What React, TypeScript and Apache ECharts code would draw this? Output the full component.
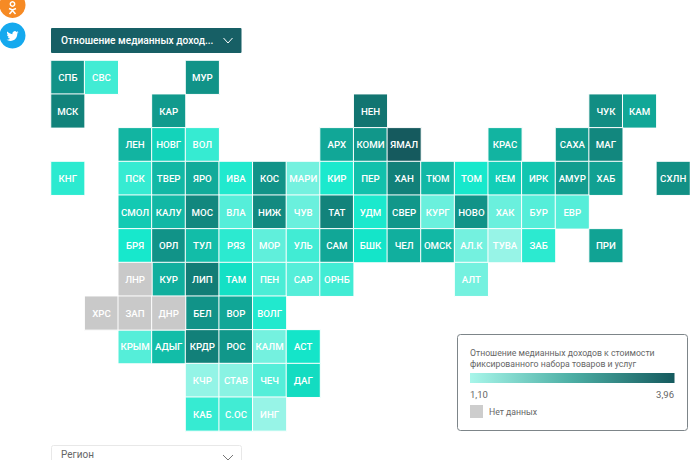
import React, { useEffect, useRef } from "react";
import * as echarts from "echarts";

const columns = Array.from({ length: 19 }, (_, i) => String(i));
const gridRows = Array.from({ length: 11 }, (_, i) => String(i));

const names = [
  "СПБ","СВС","МУР",
  "МСК","КАР","НЕН","ЧУК","КАМ",
  "ЛЕН","НОВГ","ВОЛ","АРХ","КОМИ","ЯМАЛ","КРАС","САХА","МАГ",
  "КНГ","ПСК","ТВЕР","ЯРО","ИВА","КОС","МАРИ","КИР","ПЕР","ХАН","ТЮМ","ТОМ","КЕМ","ИРК","АМУР","ХАБ","СХЛН",
  "СМОЛ","КАЛУ","МОС","ВЛА","НИЖ","ЧУВ","ТАТ","УДМ","СВЕР","КУРГ","НОВО","ХАК","БУР","ЕВР",
  "БРЯ","ОРЛ","ТУЛ","РЯЗ","МОР","УЛЬ","САМ","БШК","ЧЕЛ","ОМСК","АЛ.К","ТУВА","ЗАБ","ПРИ",
  "КУР","ЛИП","ТАМ","ПЕН","САР","ОРНБ","АЛТ",
  "БЕЛ","ВОР","ВОЛГ",
  "КРЫМ","АДЫГ","КРДР","РОС","КАЛМ","АСТ",
  "КЧР","СТАВ","ЧЕЧ","ДАГ",
  "КАБ","С.ОС","ИНГ",
];
const cols = [
  0,1,4,
  0,3,9,16,17,
  2,3,4,8,9,10,13,15,16,
  0,2,3,4,5,6,7,8,9,10,11,12,13,14,15,16,18,
  2,3,4,5,6,7,8,9,10,11,12,13,14,15,
  2,3,4,5,6,7,8,9,10,11,12,13,14,16,
  3,4,5,6,7,8,12,
  4,5,6,
  2,3,4,5,6,7,
  4,5,6,7,
  4,5,6,
];
const rows = [
  0,0,0,
  1,1,1,1,1,
  2,2,2,2,2,2,2,2,2,
  3,3,3,3,3,3,3,3,3,3,3,3,3,3,3,3,3,
  4,4,4,4,4,4,4,4,4,4,4,4,4,4,
  5,5,5,5,5,5,5,5,5,5,5,5,5,5,
  6,6,6,6,6,6,6,
  7,7,7,
  8,8,8,8,8,8,
  9,9,9,9,
  10,10,10,
];
const values = [
  2.85,1.6,2.85,
  3.1,2.75,3.35,2.95,2.55,
  2.4,2.05,1.65,2.55,2.8,3.96,2.4,2.75,3.05,
  1.7,1.65,2.35,2.5,1.75,2.85,1.35,1.78,2.25,3.15,2.35,1.8,2.1,2.2,2.7,2.65,2.9,
  2.15,2.35,3.05,1.5,3.0,1.4,3.1,1.78,2.8,1.4,2.85,1.4,1.5,1.5,
  1.8,2.85,2.3,1.7,1.45,1.6,2.55,1.85,2.45,2.35,1.35,1.18,1.7,2.6,
  2.45,3.2,1.9,1.55,1.5,1.6,1.35,
  2.85,2.55,1.75,
  1.5,2.3,3.15,2.8,1.35,1.85,
  1.2,1.25,1.5,1.95,
  1.65,1.6,1.18,
];

const missingNames = ["ЛНР", "ХРС", "ЗАП", "ДНР"];
const missingCols = [2, 1, 2, 3];
const missingRows = [6, 7, 7, 7];

const legendTitle = ["Отношение медианных доходов к стоимости", "фиксированного набора товаров и услуг"];
const legendMin = 1.1;
const legendMax = 3.96;
const legendMinLabel = "1,10";
const legendMaxLabel = "3,96";
const noDataLabel = "Нет данных";
const scaleColors = ["#a8f6ea", "#14e8cb", "#11a898", "#127a74", "#155a5e"];

const twitterPath =
  "M23.95 4.57a10 10 0 0 1-2.82.77 4.96 4.96 0 0 0 2.16-2.72c-.95.55-2 .96-3.13 1.19a4.92 4.92 0 0 0-8.38 4.48C7.69 8.1 4.07 6.13 1.64 3.16a4.82 4.82 0 0 0-.67 2.48c0 1.71.87 3.21 2.19 4.1a4.9 4.9 0 0 1-2.23-.62v.06a4.92 4.92 0 0 0 3.95 4.83 5 5 0 0 1-2.21.08 4.94 4.94 0 0 0 4.6 3.42A9.87 9.87 0 0 1 0 19.54a14 14 0 0 0 7.56 2.21c9.05 0 14-7.5 14-13.98 0-.21 0-.42-.02-.63A9.94 9.94 0 0 0 24 4.59z";

const FONT = "Roboto, 'Noto Sans', sans-serif";

export default function App() {
  const ref = useRef<HTMLDivElement>(null);
  useEffect(() => {
    document.body.style.margin = "0";
    echarts.graphic.registerShape("twitterBird", echarts.graphic.extendPath(twitterPath, {}) as any);
    const chart = echarts.init(ref.current!, undefined, { renderer: "svg" });
    const tileLabel = {
      show: true,
      formatter: (p: any) => p.name,
      color: "#fff",
      fontFamily: FONT,
      fontSize: 9.7,
      fontWeight: 500,
    };
    chart.setOption({
      animation: false,
      backgroundColor: "#fff",
      grid: { left: 51, top: 60.5, width: 639.7, height: 370.4, containLabel: false },
      xAxis: { type: "category", data: columns, show: false },
      yAxis: { type: "category", data: gridRows, inverse: true, show: false },
      visualMap: [
        {
          show: false,
          seriesIndex: 0,
          min: legendMin,
          max: legendMax,
          inRange: { color: scaleColors },
        },
        {
          show: false,
          seriesIndex: 1,
          min: 0,
          max: 1,
          inRange: { color: ["#c9c9c9", "#c9c9c9"] },
        },
      ],
      series: [
        {
          type: "heatmap",
          data: names.map((n, i) => ({ name: n, value: [cols[i], rows[i], values[i]] })),
          label: tileLabel,
          itemStyle: { borderColor: "#fff", borderWidth: 1 },
        },
        {
          type: "heatmap",
          data: missingNames.map((n, i) => ({ name: n, value: [missingCols[i], missingRows[i], 0] })),
          label: tileLabel,
          itemStyle: { borderColor: "#fff", borderWidth: 1 },
        },
      ],
      graphic: [
        { type: "circle", shape: { cx: 12.5, cy: 5, r: 13 }, style: { fill: "#f68a24" } },
        { type: "circle", shape: { cx: 12.5, cy: 4, r: 2.2 }, style: { fill: "none", stroke: "#fff", lineWidth: 1.5 } },
        { type: "polyline", shape: { points: [[9, 8.5], [12.5, 10], [16, 8.5]] }, style: { fill: "none", stroke: "#fff", lineWidth: 1.5 } },
        { type: "polyline", shape: { points: [[9.5, 14], [12.5, 10.5], [15.5, 14]] }, style: { fill: "none", stroke: "#fff", lineWidth: 1.5 } },
        { type: "circle", shape: { cx: 12.5, cy: 35.5, r: 13 }, style: { fill: "#15a9ee" } },
        { type: "twitterBird", x: 6.5, y: 30, scaleX: 0.5, scaleY: 0.5, style: { fill: "#fff" } },

        { type: "rect", shape: { x: 51, y: 28, width: 190.5, height: 25, r: 1 }, style: { fill: "#175f65" } },
        { type: "text", x: 61, y: 40.5, style: { text: "Отношение медианных доход...", fill: "#fff", font: `500 10.2px ${FONT}`, verticalAlign: "middle" } },
        { type: "polyline", shape: { points: [[223.5, 38], [228, 43], [232.5, 38]] }, style: { fill: "none", stroke: "#fff", lineWidth: 1 } },

        { type: "rect", shape: { x: 51.5, y: 445.5, width: 190, height: 30, r: 2 }, style: { fill: "#fff", stroke: "#e8e8e8", lineWidth: 1 } },
        { type: "text", x: 61, y: 454.5, style: { text: "Регион", fill: "#666", font: `10px ${FONT}`, verticalAlign: "middle" } },
        { type: "polyline", shape: { points: [[223, 455], [228, 460], [233, 455]] }, style: { fill: "none", stroke: "#777", lineWidth: 1 } },

        { type: "rect", shape: { x: 457.5, y: 334.5, width: 230, height: 96, r: 3 }, style: { fill: "#fff", stroke: "#7d8589", lineWidth: 1 } },
        { type: "text", x: 470, y: 353, style: { text: legendTitle[0], fill: "#666", font: `8.7px ${FONT}`, verticalAlign: "middle" } },
        { type: "text", x: 470, y: 364, style: { text: legendTitle[1], fill: "#666", font: `8.7px ${FONT}`, verticalAlign: "middle" } },
        {
          type: "rect",
          shape: { x: 470, y: 373, width: 204.5, height: 10 },
          style: {
            fill: new echarts.graphic.LinearGradient(0, 0, 1, 0, [
              { offset: 0, color: "#a8f6ea" },
              { offset: 0.5, color: "#4caea4" },
              { offset: 1, color: "#155a5e" },
            ]),
          },
        },
        { type: "text", x: 470, y: 394, style: { text: legendMinLabel, fill: "#666", font: `9.5px ${FONT}`, verticalAlign: "middle" } },
        { type: "text", x: 674, y: 394, style: { text: legendMaxLabel, fill: "#666", font: `9.5px ${FONT}`, align: "right", verticalAlign: "middle" } },
        { type: "rect", shape: { x: 470, y: 405, width: 13, height: 13 }, style: { fill: "#cdcdcd" } },
        { type: "text", x: 489, y: 412, style: { text: noDataLabel, fill: "#666", font: `8.7px ${FONT}`, verticalAlign: "middle" } },
      ],
    });
    return () => chart.dispose();
  }, []);
  return <div ref={ref} style={{ position: "absolute", left: 0, top: 0, width: 690, height: 460 }} />;
}
